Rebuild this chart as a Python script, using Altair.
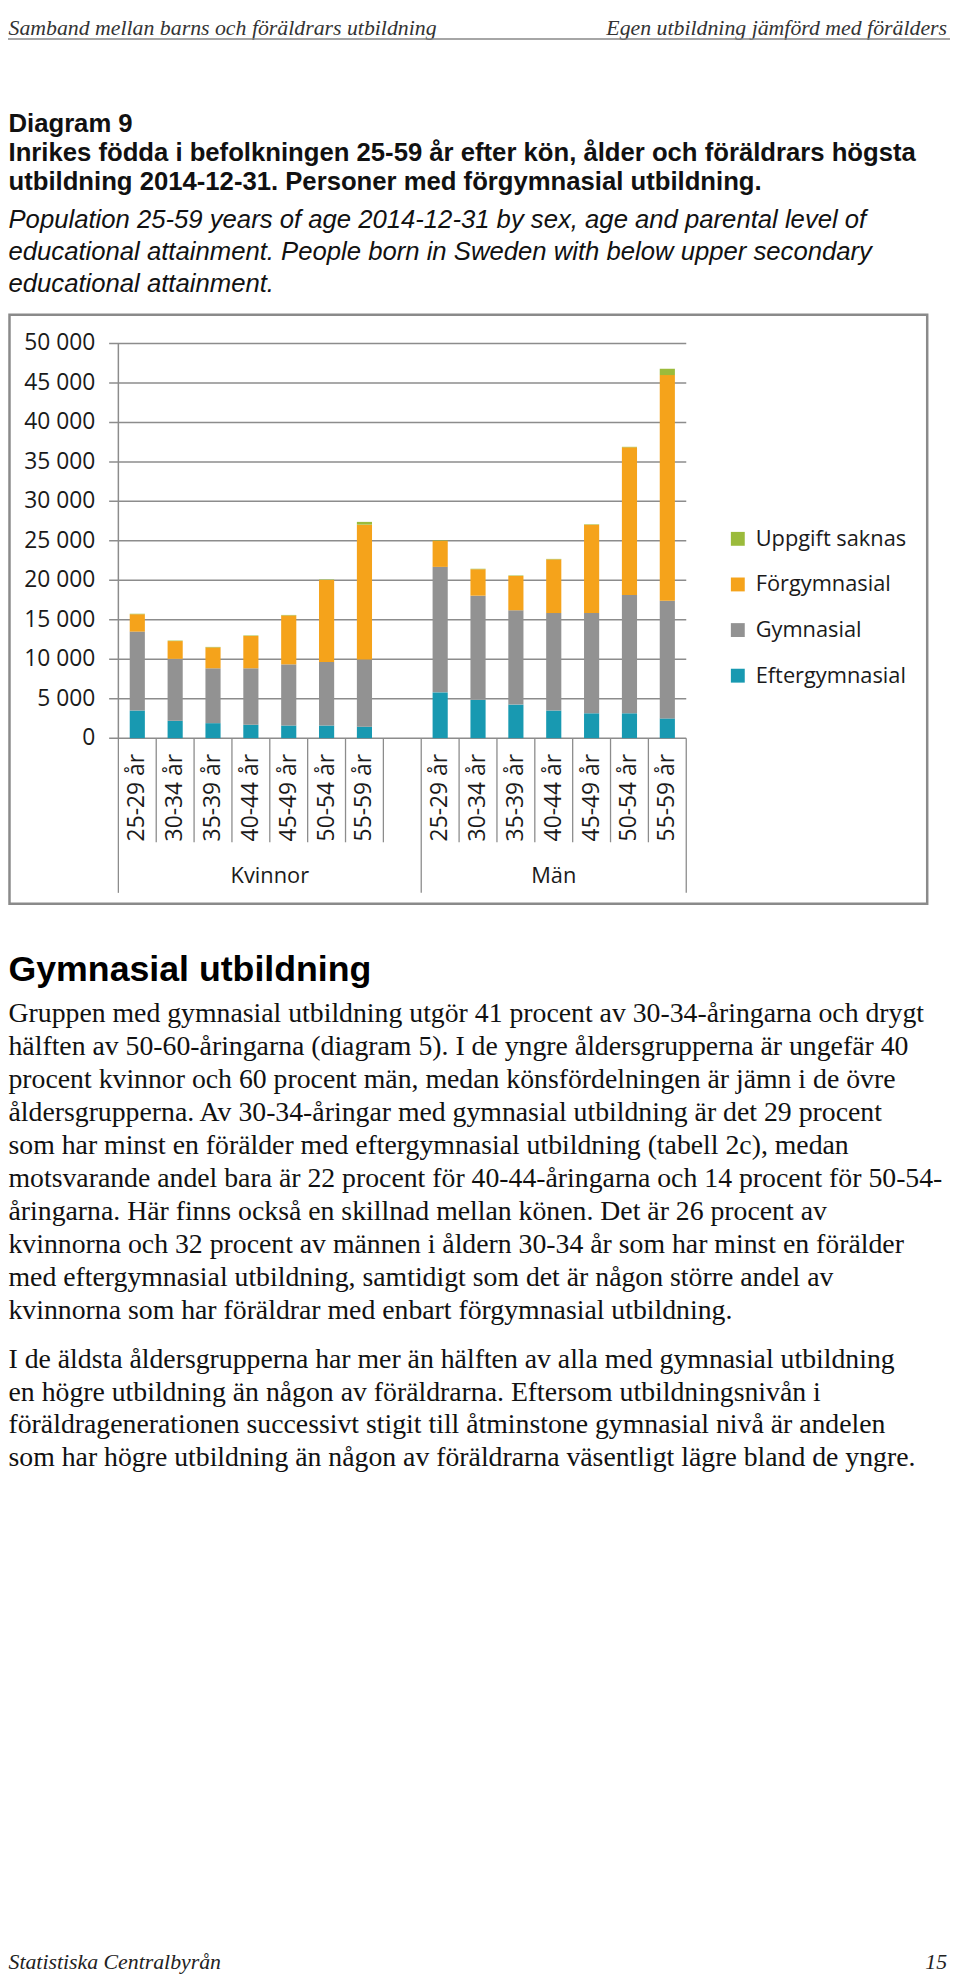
import altair as alt
import pandas as pd

# ---------------- data ----------------
ages = ["25-29 år", "30-34 år", "35-39 år", "40-44 år", "45-49 år", "50-54 år", "55-59 år"]
sexes = ["Kvinnor", "Män"]
levels = ["Uppgift saknas", "Förgymnasial", "Gymnasial", "Eftergymnasial"]
level_colors = ["#9BBB3B", "#F5A31B", "#929292", "#1899B1"]

eftergym_k = [3500, 2200, 1900, 1700, 1600, 1600, 1450]
gym_k = [10000, 7850, 6950, 7150, 7750, 8050, 8500]
forgym_k = [2200, 2250, 2650, 4100, 6200, 10400, 17100]
uppgift_k = [60, 60, 60, 60, 60, 60, 350]

eftergym_m = [5800, 4850, 4250, 3500, 3150, 3150, 2500]
gym_m = [15900, 13200, 11950, 12350, 12700, 15000, 14900]
forgym_m = [3300, 3350, 4350, 6800, 11200, 18700, 28600]
uppgift_m = [60, 60, 60, 60, 60, 60, 800]

y_ticks = [0, 5000, 10000, 15000, 20000, 25000, 30000, 35000, 40000, 45000, 50000]
y_tick_labels = ["0", "5 000", "10 000", "15 000", "20 000", "25 000", "30 000",
                 "35 000", "40 000", "45 000", "50 000"]

header_left = "Samband mellan barns och föräldrars utbildning"
header_right = "Egen utbildning jämförd med förälders"
title_bold = ["Diagram 9",
              "Inrikes födda i befolkningen 25-59 år efter kön, ålder och föräldrars högsta",
              "utbildning 2014-12-31. Personer med förgymnasial utbildning."]
title_italic = ["Population 25-59 years of age 2014-12-31 by sex, age and parental level of",
                "educational attainment. People born in Sweden with below upper secondary",
                "educational attainment."]
section_heading = "Gymnasial utbildning"
paragraph1 = [
    "Gruppen med gymnasial utbildning utgör 41 procent av 30-34-åringarna och drygt",
    "hälften av 50-60-åringarna (diagram 5). I de yngre åldersgrupperna är ungefär 40",
    "procent kvinnor och 60 procent män, medan könsfördelningen är jämn i de övre",
    "åldersgrupperna. Av 30-34-åringar med gymnasial utbildning är det 29 procent",
    "som har minst en förälder med eftergymnasial utbildning (tabell 2c), medan",
    "motsvarande andel bara är 22 procent för 40-44-åringarna och 14 procent för 50-54-",
    "åringarna. Här finns också en skillnad mellan könen. Det är 26 procent av",
    "kvinnorna och 32 procent av männen i åldern 30-34 år som har minst en förälder",
    "med eftergymnasial utbildning, samtidigt som det är någon större andel av",
    "kvinnorna som har föräldrar med enbart förgymnasial utbildning.",
]
paragraph2 = [
    "I de äldsta åldersgrupperna har mer än hälften av alla med gymnasial utbildning",
    "en högre utbildning än någon av föräldrarna. Eftersom utbildningsnivån i",
    "föräldragenerationen successivt stigit till åtminstone gymnasial nivå är andelen",
    "som har högre utbildning än någon av föräldrarna väsentligt lägre bland de yngre.",
]
footer_left = "Statistiska Centralbyrån"
footer_right = "15"

# ---------------- tables ----------------
series = {
    "Kvinnor": {"Eftergymnasial": eftergym_k, "Gymnasial": gym_k,
                "Förgymnasial": forgym_k, "Uppgift saknas": uppgift_k},
    "Män": {"Eftergymnasial": eftergym_m, "Gymnasial": gym_m,
            "Förgymnasial": forgym_m, "Uppgift saknas": uppgift_m},
}
stack_order = ["Eftergymnasial", "Gymnasial", "Förgymnasial", "Uppgift saknas"]
rows = []
cat_rows = []
for s_i, sex in enumerate(sexes):
    for a_i, age in enumerate(ages):
        slot = s_i * 8 + a_i
        cat_rows.append({"slot": slot, "age": age})
        base = 0
        for lev in stack_order:
            v = series[sex][lev][a_i]
            rows.append({"slot": slot, "sex": sex, "age": age, "level": lev,
                         "lo": base, "hi": base + v})
            base += v
bars_df = pd.DataFrame(rows)
cats_df = pd.DataFrame(cat_rows)
groups_df = pd.DataFrame({"sex": sexes, "g_lo": [0, 8], "g_hi": [8, 15]})
bounds_df = pd.DataFrame({"b": list(range(16))})
ticks_df = pd.DataFrame({"v": y_ticks, "lab": y_tick_labels})
one = pd.DataFrame({"d": [0]})

# page -> chart coordinates (page margin 8px)
def px(x):
    return x - 8

LEFT = 0.5  # leftmost text position (page x 8.5)

xs = alt.Scale(domain=[0, 15], range=[px(119.3), px(692)], nice=False, zero=False)
ys = alt.Scale(domain=[0, 50000], range=[px(736), px(338)], nice=False, zero=False)

GRID = "#8c8c8c"
CHART_FONT = "Open Sans"

layers = []

# header
layers.append(alt.Chart(one).mark_text(align="left", baseline="middle", font="Liberation Serif",
                                       fontStyle="italic", fontSize=22, color="#333")
              .encode(x=alt.value(LEFT), y=alt.value(12), text=alt.value(header_left)))
layers.append(alt.Chart(one).mark_text(align="right", baseline="middle", font="Liberation Serif",
                                       fontStyle="italic", fontSize=22, color="#333")
              .encode(x=alt.value(px(955)), y=alt.value(12), text=alt.value(header_right)))
layers.append(alt.Chart(one).mark_rule(color="#888", strokeWidth=1.5)
              .encode(x=alt.value(0), x2=alt.value(px(958)), y=alt.value(px(31))))

# titles
for i, line in enumerate(title_bold):
    layers.append(alt.Chart(one).mark_text(align="left", baseline="middle", font="Liberation Sans",
                                           fontWeight="bold", fontSize=25.9, color="#111")
                  .encode(x=alt.value(LEFT), y=alt.value(px(117 + 29 * i)), text=alt.value(line)))
for i, line in enumerate(title_italic):
    layers.append(alt.Chart(one).mark_text(align="left", baseline="middle", font="Liberation Sans",
                                           fontStyle="italic", fontSize=25.9, color="#111")
                  .encode(x=alt.value(LEFT), y=alt.value(px(214 + 32 * i)), text=alt.value(line)))

# chart frame
layers.append(alt.Chart(one).mark_rect(fill="white", stroke="#8a8a8a", strokeWidth=2.5)
              .encode(x=alt.value(1.5), x2=alt.value(px(935)), y=alt.value(px(309)), y2=alt.value(px(903))))

# gridlines and tick labels
layers.append(alt.Chart(ticks_df).mark_rule(color=GRID, strokeWidth=1.5)
              .encode(y=alt.Y("v:Q", scale=ys, axis=None), x=alt.value(px(110)), x2=alt.value(px(692))))
layers.append(alt.Chart(ticks_df).mark_text(align="right", baseline="middle", font=CHART_FONT,
                                            fontSize=23, color="#1a1a1a")
              .encode(y=alt.Y("v:Q", scale=ys, axis=None), x=alt.value(px(96)), text="lab:N"))
# y axis line
layers.append(alt.Chart(one).transform_calculate(ax="0", a0="0", a1="50000")
              .mark_rule(color=GRID, strokeWidth=1.5)
              .encode(x=alt.X("ax:Q", scale=xs, axis=None),
                      y=alt.Y("a0:Q", scale=ys, axis=None), y2="a1:Q"))

# bars
layers.append(alt.Chart(bars_df).transform_calculate(x0="datum.slot + 0.3", x1="datum.slot + 0.7")
              .mark_bar(strokeWidth=0)
              .encode(x=alt.X("x0:Q", scale=xs, axis=None), x2="x1:Q",
                      y=alt.Y("lo:Q", scale=ys, axis=None), y2="hi:Q",
                      color=alt.Color("level:N",
                                      scale=alt.Scale(domain=levels, range=level_colors),
                                      legend=alt.Legend(orient="none", legendX=px(733), legendY=px(524),
                                                        title=None, symbolType="square", symbolSize=196,
                                                        symbolStrokeWidth=0, symbolOpacity=1,
                                                        labelFont=CHART_FONT, labelFontSize=22,
                                                        labelColor="#1a1a1a", labelOffset=7,
                                                        rowPadding=24, padding=0))))

# category separators
layers.append(alt.Chart(bounds_df).transform_filter("datum.b != 0 && datum.b != 8 && datum.b != 15")
              .mark_rule(color=GRID, strokeWidth=1.3)
              .encode(x=alt.X("b:Q", scale=xs, axis=None), y=alt.value(px(736)), y2=alt.value(px(841))))
layers.append(alt.Chart(bounds_df).transform_filter("datum.b == 0 || datum.b == 8 || datum.b == 15")
              .mark_rule(color=GRID, strokeWidth=1.3)
              .encode(x=alt.X("b:Q", scale=xs, axis=None), y=alt.value(px(736)), y2=alt.value(px(892))))

# category labels
layers.append(alt.Chart(cats_df).transform_calculate(xc="datum.slot + 0.5")
              .mark_text(angle=270, align="right", baseline="middle", font=CHART_FONT,
                         fontSize=23, color="#1a1a1a")
              .encode(x=alt.X("xc:Q", scale=xs, axis=None), y=alt.value(px(752)), text="age:N"))
layers.append(alt.Chart(groups_df).transform_calculate(gc="(datum.g_lo + datum.g_hi) / 2")
              .mark_text(align="center", baseline="middle", font=CHART_FONT, fontSize=22, color="#1a1a1a")
              .encode(x=alt.X("gc:Q", scale=xs, axis=None), y=alt.value(px(875)), text="sex:N"))

# body text
layers.append(alt.Chart(one).mark_text(align="left", baseline="middle", font="Liberation Sans",
                                       fontWeight="bold", fontSize=36, color="#000")
              .encode(x=alt.value(LEFT), y=alt.value(px(970)), text=alt.value(section_heading)))
for i, line in enumerate(paragraph1):
    layers.append(alt.Chart(one).mark_text(align="left", baseline="middle", font="Liberation Serif",
                                           fontSize=28, color="#111")
                  .encode(x=alt.value(LEFT), y=alt.value(px(1014 + 33.33 * i)), text=alt.value(line)))
for i, line in enumerate(paragraph2):
    layers.append(alt.Chart(one).mark_text(align="left", baseline="middle", font="Liberation Serif",
                                           fontSize=28, color="#111")
                  .encode(x=alt.value(LEFT), y=alt.value(px(1363 + 33 * i)), text=alt.value(line)))

# footer
layers.append(alt.Chart(one).mark_text(align="left", baseline="middle", font="Liberation Serif",
                                       fontStyle="italic", fontSize=22, color="#222")
              .encode(x=alt.value(LEFT), y=alt.value(px(1970)), text=alt.value(footer_left)))
layers.append(alt.Chart(one).mark_text(align="right", baseline="middle", font="Liberation Serif",
                                       fontStyle="italic", fontSize=22, color="#222")
              .encode(x=alt.value(px(955)), y=alt.value(px(1970)), text=alt.value(footer_right)))

chart = (alt.layer(*layers)
         .properties(width=952, height=1968, padding=0, background="white",
                     autosize=alt.AutoSizeParams(type="none"))
         .configure_view(strokeWidth=0))

chart.save("out.html", embed_options={"renderer": "svg", "actions": False})
